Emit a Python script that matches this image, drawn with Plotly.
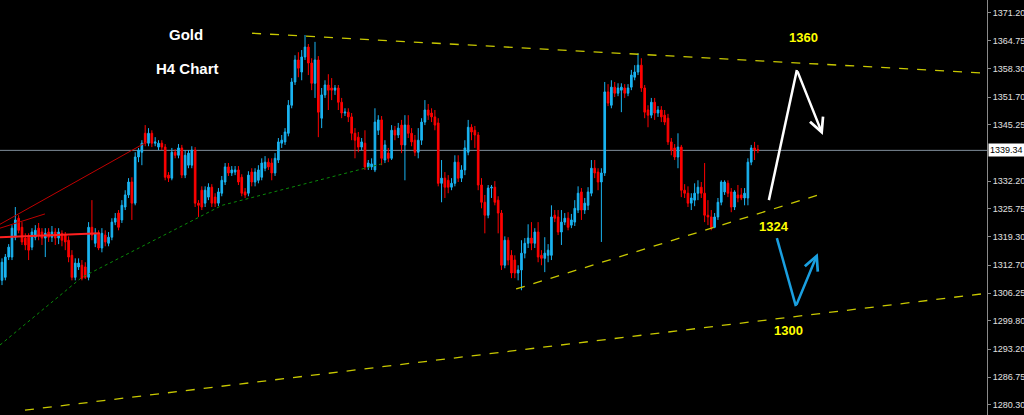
import plotly.graph_objects as go

# ---------------- data ----------------
open_ = [
    1309.2, 1309.9, 1314.6, 1314.6, 1319.2, 1323.6, 1321.5, 1319.0, 1319.2, 1316.9,
    1319.2, 1321.3, 1320.4, 1319.0, 1320.4, 1319.2, 1320.4, 1319.0, 1320.1, 1319.7,
    1318.5, 1315.0, 1309.9, 1312.3, 1312.7, 1312.3, 1309.9, 1321.5, 1317.8, 1320.1,
    1316.7, 1319.7, 1317.8, 1319.2, 1322.7, 1324.8, 1323.2, 1326.2, 1329.0, 1332.0,
    1327.1, 1337.8, 1338.9, 1343.3, 1341.0, 1343.3, 1341.0, 1340.1, 1341.0, 1340.1,
    1333.6, 1332.9, 1338.9, 1338.2, 1339.9, 1333.6, 1335.9, 1335.9, 1339.4, 1327.1,
    1330.1, 1327.1, 1328.5, 1330.8, 1328.5, 1327.1, 1329.4, 1332.0, 1335.5, 1334.1,
    1334.3, 1334.8, 1333.1, 1329.7, 1329.4, 1334.3, 1332.0, 1332.4, 1333.1, 1335.2,
    1336.6, 1336.4, 1334.1, 1337.1, 1341.0, 1341.3, 1343.3, 1349.8, 1355.2, 1360.3,
    1357.5, 1361.0, 1363.3, 1359.6, 1354.9, 1360.3, 1346.8, 1352.2, 1354.5, 1353.8,
    1353.3, 1353.8, 1350.5, 1348.0, 1348.2, 1347.1, 1343.3, 1342.4, 1340.1, 1341.0,
    1335.5, 1335.5, 1334.8, 1344.0, 1346.4, 1337.1, 1338.7, 1337.5, 1344.0, 1342.9,
    1345.2, 1340.6, 1345.2, 1343.3, 1341.7, 1338.9, 1341.7, 1345.9, 1348.7, 1348.0,
    1347.1, 1345.7, 1331.7, 1332.9, 1332.4, 1330.8, 1331.7, 1336.6, 1332.9, 1334.8,
    1338.9, 1344.7, 1344.0, 1342.9, 1331.3, 1327.3, 1324.3, 1330.6, 1330.8, 1327.8,
    1324.8, 1312.7, 1318.5, 1315.0, 1313.9, 1310.9, 1311.6, 1315.5, 1317.8, 1319.0,
    1317.8, 1320.4, 1315.0, 1314.3, 1315.0, 1315.0, 1324.3, 1323.9, 1320.4, 1322.7,
    1323.6, 1322.0, 1322.7, 1325.5, 1329.7, 1325.5, 1326.6, 1329.4, 1335.2, 1334.3,
    1332.0, 1334.1, 1352.9, 1349.8, 1354.0, 1352.6, 1353.3, 1353.8, 1352.6, 1354.0,
    1356.3, 1357.5, 1359.1, 1353.8, 1348.7, 1347.5, 1350.5, 1348.0, 1348.7, 1347.5,
    1346.8, 1341.3, 1339.9, 1337.8, 1340.1, 1330.1, 1329.4, 1327.1, 1327.8, 1329.4,
    1330.8, 1329.4, 1324.3, 1323.9, 1321.5, 1323.9, 1327.3, 1329.7, 1331.7, 1329.7,
    1326.2, 1329.0, 1329.0, 1328.3, 1328.3, 1336.6, 1339.9, 1339.5,
]

close = [
    1313.4, 1314.6, 1316.9, 1321.3, 1323.2, 1320.8, 1318.1, 1317.4, 1316.2, 1320.4,
    1320.8, 1319.7, 1319.0, 1320.1, 1319.2, 1320.4, 1319.0, 1320.4, 1318.5, 1318.1,
    1314.6, 1309.9, 1313.2, 1313.2, 1309.7, 1309.9, 1321.5, 1319.7, 1320.1, 1316.7,
    1320.1, 1318.1, 1319.2, 1322.7, 1323.6, 1321.5, 1326.6, 1329.0, 1332.0, 1327.1,
    1337.8, 1339.4, 1341.0, 1341.0, 1343.3, 1341.0, 1341.3, 1341.0, 1340.1, 1333.1,
    1332.9, 1338.9, 1338.2, 1339.9, 1333.6, 1338.2, 1338.7, 1339.4, 1327.1, 1326.6,
    1326.2, 1330.1, 1330.8, 1327.1, 1327.1, 1329.7, 1332.4, 1335.5, 1334.1, 1334.8,
    1334.8, 1332.0, 1329.4, 1329.0, 1333.6, 1332.0, 1334.3, 1334.8, 1336.4, 1336.6,
    1335.5, 1334.1, 1337.5, 1341.3, 1341.7, 1343.6, 1349.8, 1355.2, 1360.3, 1358.4,
    1361.0, 1363.3, 1359.6, 1354.9, 1360.3, 1348.2, 1352.2, 1354.5, 1353.3, 1353.3,
    1353.8, 1350.5, 1348.0, 1348.2, 1347.1, 1343.3, 1341.7, 1340.1, 1341.3, 1335.5,
    1336.4, 1336.2, 1345.9, 1346.4, 1337.5, 1340.6, 1337.5, 1344.0, 1342.9, 1344.5,
    1340.6, 1345.2, 1343.3, 1341.3, 1338.9, 1341.7, 1345.9, 1348.7, 1347.5, 1347.1,
    1345.2, 1331.7, 1332.9, 1330.8, 1330.8, 1331.7, 1336.6, 1332.9, 1334.8, 1339.9,
    1344.7, 1343.6, 1342.9, 1331.3, 1327.3, 1324.3, 1330.6, 1330.8, 1327.3, 1324.8,
    1312.7, 1318.5, 1313.9, 1310.9, 1310.9, 1311.6, 1315.5, 1317.8, 1319.0, 1317.8,
    1320.4, 1314.6, 1314.3, 1315.5, 1316.2, 1323.9, 1323.6, 1320.4, 1322.7, 1323.6,
    1321.5, 1323.2, 1325.9, 1329.4, 1325.5, 1327.1, 1329.7, 1335.2, 1334.1, 1332.0,
    1334.1, 1352.9, 1350.3, 1354.0, 1352.6, 1353.8, 1354.0, 1352.6, 1353.8, 1356.8,
    1357.5, 1359.1, 1353.8, 1348.2, 1347.5, 1350.5, 1348.0, 1348.7, 1347.1, 1345.9,
    1341.3, 1339.4, 1337.8, 1340.1, 1330.1, 1329.4, 1327.1, 1328.3, 1329.4, 1330.8,
    1329.4, 1324.3, 1323.9, 1321.5, 1323.9, 1327.3, 1332.0, 1332.0, 1329.4, 1326.2,
    1329.7, 1328.3, 1328.3, 1329.4, 1336.6, 1339.9, 1339.4, 1339.34,
]

high = [
    1314.3, 1315.3, 1317.6, 1322.0, 1326.2, 1324.3, 1322.7, 1320.1, 1320.1, 1321.3,
    1322.0, 1322.5, 1321.3, 1321.3, 1321.3, 1321.8, 1321.3, 1321.3, 1320.8, 1320.4,
    1319.4, 1316.2, 1314.3, 1314.3, 1313.9, 1313.4, 1322.7, 1327.8, 1321.3, 1320.8,
    1321.3, 1320.8, 1320.4, 1323.6, 1324.8, 1325.5, 1327.8, 1330.1, 1332.9, 1333.1,
    1338.9, 1339.9, 1341.7, 1345.2, 1344.5, 1344.0, 1342.4, 1341.7, 1341.7, 1340.8,
    1334.3, 1339.9, 1339.6, 1340.8, 1340.6, 1339.4, 1339.4, 1340.3, 1340.1, 1327.8,
    1331.0, 1331.0, 1331.7, 1331.5, 1329.4, 1330.6, 1333.4, 1336.4, 1336.4, 1335.7,
    1335.7, 1335.7, 1333.8, 1330.6, 1334.5, 1335.2, 1335.2, 1335.9, 1337.5, 1338.0,
    1337.5, 1337.5, 1338.7, 1342.2, 1342.9, 1344.5, 1351.0, 1356.1, 1361.4, 1362.1,
    1362.6, 1366.1, 1364.0, 1360.7, 1364.5, 1361.2, 1353.8, 1355.6, 1357.0, 1356.1,
    1354.5, 1354.5, 1351.5, 1349.1, 1349.1, 1348.0, 1344.5, 1343.6, 1342.2, 1344.0,
    1337.1, 1337.5, 1349.1, 1347.5, 1347.3, 1341.7, 1339.9, 1345.2, 1345.0, 1345.7,
    1346.4, 1347.5, 1347.5, 1344.5, 1342.9, 1344.5, 1346.8, 1351.0, 1350.1, 1349.1,
    1348.7, 1346.8, 1337.1, 1334.3, 1333.6, 1332.9, 1338.2, 1338.2, 1335.9, 1341.7,
    1346.4, 1345.4, 1345.0, 1343.6, 1332.9, 1329.0, 1331.3, 1331.3, 1332.2, 1328.7,
    1325.5, 1319.4, 1319.2, 1316.2, 1315.0, 1312.7, 1318.5, 1319.0, 1322.2, 1322.7,
    1321.3, 1322.7, 1316.2, 1319.2, 1317.6, 1326.6, 1325.5, 1325.5, 1325.5, 1324.8,
    1325.0, 1324.6, 1327.8, 1331.0, 1330.6, 1328.3, 1330.8, 1337.1, 1337.1, 1335.2,
    1335.2, 1355.2, 1354.7, 1355.6, 1355.2, 1354.9, 1354.9, 1354.7, 1354.7, 1358.0,
    1359.1, 1361.9, 1360.7, 1354.5, 1349.8, 1351.5, 1351.5, 1349.6, 1349.6, 1348.7,
    1347.8, 1342.2, 1340.8, 1343.3, 1340.6, 1331.5, 1331.0, 1329.4, 1331.7, 1332.4,
    1332.0, 1336.4, 1327.8, 1325.5, 1324.8, 1328.3, 1332.4, 1332.4, 1332.4, 1330.6,
    1330.1, 1331.3, 1330.6, 1330.6, 1337.5, 1340.6, 1341.3, 1340.6,
]

low = [
    1308.1, 1309.2, 1313.9, 1313.9, 1318.5, 1320.1, 1317.4, 1316.2, 1313.9, 1316.2,
    1318.5, 1318.5, 1317.4, 1314.6, 1318.1, 1318.1, 1317.4, 1317.6, 1317.1, 1316.2,
    1313.4, 1309.2, 1309.2, 1311.6, 1309.2, 1309.5, 1309.2, 1318.5, 1316.9, 1316.2,
    1315.7, 1317.1, 1317.1, 1318.5, 1322.0, 1320.8, 1322.5, 1325.5, 1328.3, 1323.2,
    1326.6, 1336.6, 1335.9, 1340.3, 1340.3, 1340.1, 1340.3, 1339.4, 1339.4, 1332.4,
    1332.0, 1332.4, 1337.5, 1337.5, 1332.9, 1332.9, 1335.2, 1335.2, 1326.2, 1323.9,
    1325.5, 1326.2, 1327.8, 1326.2, 1326.2, 1326.4, 1328.7, 1331.3, 1333.4, 1333.4,
    1333.6, 1331.3, 1328.7, 1328.3, 1328.7, 1331.0, 1331.0, 1331.7, 1332.4, 1334.5,
    1334.8, 1332.4, 1333.4, 1336.4, 1339.9, 1340.6, 1342.6, 1349.1, 1354.5, 1356.3,
    1355.6, 1360.3, 1356.8, 1353.3, 1351.5, 1342.4, 1344.5, 1351.5, 1348.7, 1351.0,
    1352.2, 1348.7, 1346.8, 1347.3, 1345.9, 1341.7, 1337.5, 1338.9, 1339.4, 1334.8,
    1334.8, 1334.8, 1334.3, 1342.9, 1335.9, 1336.4, 1336.6, 1337.1, 1341.7, 1342.2,
    1338.7, 1332.4, 1342.2, 1340.3, 1338.0, 1337.5, 1340.6, 1345.2, 1346.4, 1345.9,
    1344.0, 1331.0, 1327.3, 1328.3, 1329.4, 1330.1, 1331.0, 1332.0, 1332.0, 1333.6,
    1338.2, 1341.7, 1339.9, 1330.1, 1325.9, 1320.1, 1323.6, 1328.3, 1326.6, 1320.1,
    1311.6, 1312.0, 1312.7, 1309.7, 1309.7, 1309.2, 1306.9, 1314.3, 1316.7, 1316.2,
    1316.7, 1313.4, 1312.7, 1311.1, 1313.4, 1313.9, 1322.7, 1319.7, 1317.4, 1322.0,
    1320.8, 1321.3, 1321.8, 1324.8, 1323.2, 1324.6, 1325.5, 1328.7, 1332.9, 1330.1,
    1318.1, 1333.4, 1349.6, 1349.1, 1351.7, 1351.9, 1348.2, 1351.5, 1351.9, 1353.3,
    1355.6, 1356.8, 1352.9, 1346.8, 1344.7, 1346.8, 1346.4, 1347.1, 1345.9, 1345.2,
    1340.6, 1338.2, 1337.1, 1335.2, 1328.5, 1328.3, 1326.2, 1325.5, 1326.4, 1327.8,
    1328.3, 1322.7, 1322.0, 1320.8, 1321.3, 1323.2, 1326.6, 1329.0, 1328.5, 1325.0,
    1325.5, 1327.3, 1327.8, 1326.6, 1326.6, 1335.9, 1337.1, 1338.7,
]

bar_index = list(range(len(close)))

# price-axis ticks
tick_vals = [1371.20, 1364.75, 1358.30, 1351.70, 1345.25, 1332.20, 1325.75,
             1319.30, 1312.70, 1306.25, 1299.80, 1293.20, 1286.75, 1280.30]
tick_text = ["1371.20", "1364.75", "1358.30", "1351.70", "1345.25", "1332.20", "1325.75",
             "1319.30", "1312.70", "1306.25", "1299.80", "1293.20", "1286.75", "1280.30"]
last_price = 1339.34

# trend lines (bar index, price)
upper_x, upper_y = [75.1, 294.3], [1366.5, 1357.3]
support_x, support_y = [154.4, 246.8], [1307.2, 1329.4]
lower_x, lower_y = [6.9, 295.8], [1279.1, 1306.2]
red_a_x, red_a_y = [-0.6, 43.5], [1322.2, 1341.3]
red_b_x, red_b_y = [-0.6, 12.9], [1321.3, 1324.6]
red_h_x, red_h_y = [-0.6, 29.4], [1319.2, 1320.1]
green_x, green_y = [-0.6, 24.0, 66.1, 115.0], [1294.2, 1309.9, 1326.6, 1336.4]
white_x, white_y = [230.3, 238.7, 246.5], [1327.8, 1358.0, 1342.9]
blue_x, blue_y = [232.7, 238.4, 245.0], [1319.0, 1303.2, 1315.5]

level_labels = ["1360", "1324", "1300"]
level_x = [240.8, 231.8, 236.3]
level_y = [1365.6, 1321.8, 1297.6]

X_RANGE = [-0.6, 295.8]
Y_RANGE = [1277.97, 1374.21]

# ---------------- figure ----------------
fig = go.Figure()

fig.add_shape(type="line", xref="paper", x0=0, x1=1, yref="y", y0=last_price, y1=last_price,
              line=dict(color="#7f8d9a", width=1), layer="below")

def line(x, y, color, width=1, dash="solid"):
    fig.add_trace(go.Scatter(x=x, y=y, mode="lines", hoverinfo="skip", showlegend=False,
                             line=dict(color=color, width=width, dash=dash)))

line(green_x, green_y, "#0a8a0a", 1, "dot")
line(red_a_x, red_a_y, "#c00000", 1)
line(red_b_x, red_b_y, "#c00000", 1)
line(red_h_x, red_h_y, "#ff2020", 2)

fig.add_trace(go.Candlestick(
    x=bar_index, open=open_, high=high, low=low, close=close,
    increasing=dict(line=dict(color="#1ab4f2", width=1), fillcolor="#1ab4f2"),
    decreasing=dict(line=dict(color="#ff0000", width=1), fillcolor="#ff0000"),
    whiskerwidth=0, showlegend=False, hoverinfo="skip",
))

line(upper_x, upper_y, "#c8c800", 1.3, "dash")
line(support_x, support_y, "#c8c800", 1.3, "dash")
line(lower_x, lower_y, "#c8c800", 1.3, "dash")

# arrows
line(white_x[:2], white_y[:2], "#ffffff", 2.5)
line(blue_x[:2], blue_y[:2], "#1a9fe0", 2.5)
for xs, ys, col in ((white_x, white_y, "#ffffff"), (blue_x, blue_y, "#1a9fe0")):
    fig.add_annotation(x=xs[2], y=ys[2], ax=xs[1], ay=ys[1], xref="x", yref="y",
                       axref="x", ayref="y", showarrow=True, arrowhead=5, arrowsize=1.1,
                       arrowwidth=2.5, arrowcolor=col, text="")

for t, x, y in zip(level_labels, level_x, level_y):
    fig.add_annotation(x=x, y=y, text="<b>%s</b>" % t, showarrow=False,
                       font=dict(family="Liberation Sans, Arial", size=13, color="#ffff00"))

fig.add_annotation(x=55.3, y=1366.1, text="<b>Gold</b>", showarrow=False,
                   font=dict(family="Liberation Sans, Arial", size=15, color="#ffffff"))
fig.add_annotation(x=55.6, y=1358.4, text="<b>H4 Chart</b>", showarrow=False,
                   font=dict(family="Liberation Sans, Arial", size=15, color="#ffffff"))

fig.add_annotation(xref="paper", x=1, xanchor="left", xshift=1, yref="y", y=last_price,
                   text="1339.34", showarrow=False, bgcolor="#ffffff", borderpad=1,
                   font=dict(family="Liberation Sans, Arial", size=9, color="#000000"))

fig.update_layout(
    width=1024, height=415,
    margin=dict(l=0, r=37, t=0, b=0),
    paper_bgcolor="#000000", plot_bgcolor="#000000",
    showlegend=False,
    xaxis=dict(range=X_RANGE, visible=False, rangeslider=dict(visible=False),
               showgrid=False, zeroline=False, fixedrange=True),
    yaxis=dict(range=Y_RANGE, side="right", showgrid=False, zeroline=False,
               showline=True, linecolor="#8a8a8a", linewidth=1,
               ticks="outside", ticklen=3, tickcolor="#8a8a8a",
               tickvals=tick_vals, ticktext=tick_text,
               tickfont=dict(family="Liberation Sans, Arial", size=9, color="#e0e0e0"),
               fixedrange=True),
)

fig.write_html(
    "out.html",
    config={"displayModeBar": False, "staticPlot": True},
    post_script="document.body.style.margin='0';document.body.style.background='#000';",
)
